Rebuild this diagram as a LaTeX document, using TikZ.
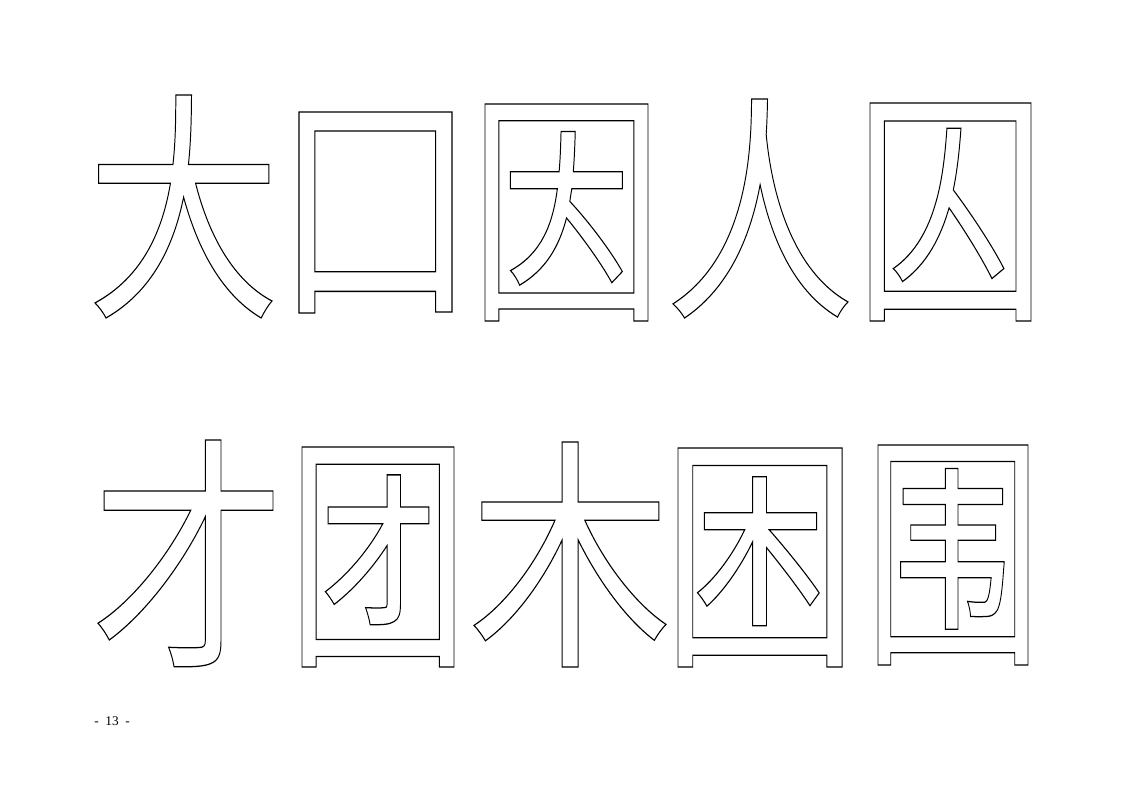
\documentclass[tikz,border=0pt]{standalone}
\usepackage{fontspec}
\setmainfont{Liberation Serif}
\newfontfamily\cjk{Noto Sans CJK SC}
\usepackage{graphicx}
\newdimen\px \px=0.026447cm
\newsavebox\gbox
\newcommand\outl[1]{\special{pdf:literal direct 1 Tr 0.75 w 0 0 0 RG}#1\special{pdf:literal direct 0 Tr}}
\newcommand\inkglyph[1]{\begingroup\cjk\fontsize{150pt}{150pt}\selectfont
  \count255=\XeTeXcharglyph`#1\relax
  \dimen0=\XeTeXglyphbounds1 \count255
  \dimen2=\XeTeXglyphbounds3 \count255
  \global\setbox\gbox=\hbox{\kern-\dimen0 \outl{#1}\kern-\dimen2}%
  \endgroup}
% #1 name, #2 char, #3 x1, #4 y1, #5 x2, #6 y2 (pixels)
\newcommand\hanzi[6]{%
  \node[glyphnode] (#1) at ({(#3+#5)/2},{(#4+#6)/2})
    {\inkglyph{#2}\resizebox*{\dimexpr #5\px-#3\px\relax}{\dimexpr #6\px-#4\px\relax}{\usebox\gbox}};}
\tikzset{glyphnode/.style={inner sep=0pt,outer sep=0pt},
  pagenum/.style={inner sep=0pt,font=\fontsize{10pt}{12pt}\selectfont}}
\begin{document}
\begin{tikzpicture}[x=0.026447cm,y=-0.026447cm]
\useasboundingbox[fill=white] (0,0) rectangle (1123,794);
\hanzi{da}{大}{95}{95}{272}{318}
\hanzi{kou}{口}{299}{112}{452}{313}
\hanzi{yin}{因}{485}{104}{648}{321}
\hanzi{ren}{人}{673}{99}{848}{318}
\hanzi{qiu}{囚}{870}{103}{1031}{321}
\hanzi{cai}{才}{98}{440}{273}{667}
\hanzi{tuan}{团}{302}{447}{454}{667}
\hanzi{mu}{木}{474}{442}{666}{667}
\hanzi{kun}{困}{678}{448}{842}{667}
\hanzi{wei}{围}{878}{445}{1028}{665}
\node[pagenum] (page) at (112,721) {-\ \ 13\ \ -};
\end{tikzpicture}
\end{document}
